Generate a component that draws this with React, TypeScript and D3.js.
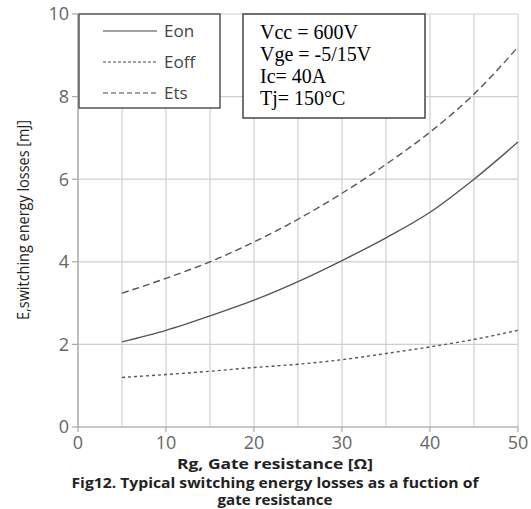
import React from "react";
import * as d3 from "d3";

const rg = [5, 10, 15, 20, 25, 30, 35, 40, 45, 50];
const eon = [2.06, 2.34, 2.69, 3.07, 3.52, 4.03, 4.58, 5.2, 6.0, 6.9];
const eoff = [1.2, 1.27, 1.35, 1.44, 1.52, 1.63, 1.78, 1.94, 2.12, 2.34];
const ets = [3.24, 3.6, 4.0, 4.48, 5.03, 5.66, 6.36, 7.14, 8.06, 9.2];
const xTicks = [0, 10, 20, 30, 40, 50];
const xGrid = [0, 5, 10, 15, 20, 25, 30, 35, 40, 45, 50];
const yTicks = [0, 2, 4, 6, 8, 10];
const seriesNames = ["Eon", "Eoff", "Ets"];
const conditions = ["Vcc = 600V", "Vge = -5/15V", "Ic= 40A", "Tj= 150\u00B0C"];

export default function App() {
  const x = d3.scaleLinear().domain([0, 50]).range([78, 518]);
  const y = d3.scaleLinear().domain([0, 10]).range([427, 14]);
  const line = d3
    .line<[number, number]>()
    .x((d) => x(d[0]))
    .y((d) => y(d[1]))
    .curve(d3.curveMonotoneX);
  const series = [
    { name: seriesNames[0], vals: eon, dash: "none" },
    { name: seriesNames[1], vals: eoff, dash: "3,3" },
    { name: seriesNames[2], vals: ets, dash: "7,4" },
  ];
  const sans = "'Open Sans', 'DejaVu Sans', sans-serif";
  return (
    <svg
      width={531}
      height={509}
      style={{ position: "absolute", left: 0, top: 0, background: "#fff" }}
    >
      {/* grid */}
      {xGrid.map((v) => (
        <line key={"gx" + v} x1={x(v)} x2={x(v)} y1={y(10)} y2={y(0)} stroke="#cfcfcf" strokeWidth={1.2} />
      ))}
      {yTicks.map((v) => (
        <line key={"gy" + v} x1={x(0)} x2={x(50)} y1={y(v)} y2={y(v)} stroke="#cfcfcf" strokeWidth={1.2} />
      ))}
      {/* axes */}
      <line x1={x(0)} x2={x(0)} y1={y(10)} y2={y(0)} stroke="#a8a8a8" strokeWidth={1.2} />
      <line x1={x(0)} x2={x(50)} y1={y(0)} y2={y(0)} stroke="#a8a8a8" strokeWidth={1.2} />
      {yTicks.map((v) => (
        <line key={"ty" + v} x1={x(0) - 6} x2={x(0)} y1={y(v)} y2={y(v)} stroke="#a8a8a8" strokeWidth={1.2} />
      ))}
      {xTicks.map((v) => (
        <line key={"tx" + v} x1={x(v)} x2={x(v)} y1={y(0)} y2={y(0) + 5} stroke="#a8a8a8" strokeWidth={1.2} />
      ))}
      {yTicks.map((v) => (
        <text key={"ly" + v} x={x(0) - 9} y={y(v)} dy="0.35em" textAnchor="end" fontFamily={sans} fontSize={18} fill="#666">
          {v}
        </text>
      ))}
      {xTicks.map((v) => (
        <text key={"lx" + v} x={x(v)} y={y(0) + 22} textAnchor="middle" fontFamily={sans} fontSize={18} fill="#666">
          {v}
        </text>
      ))}
      {/* series */}
      {series.map((s) => (
        <path
          key={s.name}
          d={line(rg.map((r, i) => [r, s.vals[i]] as [number, number])) || ""}
          fill="none"
          stroke="#555"
          strokeWidth={1.4}
          strokeDasharray={s.dash}
        />
      ))}
      {/* legend */}
      <rect x={79} y={14} width={141} height={94} fill="#fff" stroke="#555" strokeWidth={1.5} />
      {series.map((s, i) => (
        <g key={"lg" + s.name}>
          <line x1={103} x2={157} y1={31 + i * 31} y2={31 + i * 31} stroke="#444" strokeWidth={1.2} strokeDasharray={s.dash === "7,4" ? "5,3" : s.dash === "3,3" ? "3,2" : "none"} />
          <text x={164} y={31 + i * 31} dy="0.35em" fontFamily={sans} fontSize={17} fill="#444">
            {s.name}
          </text>
        </g>
      ))}
      {/* conditions box */}
      <rect x={243} y={14} width={182} height={104} fill="#fff" stroke="#444" strokeWidth={1.5} />
      {conditions.map((c, i) => (
        <text key={c} x={260} y={39 + i * 22} fontFamily="'Liberation Serif', 'Times New Roman', serif" fontSize={20} fill="#000">
          {c}
        </text>
      ))}
      {/* axis titles */}
      <text
        transform={`translate(29,220) rotate(-90)`}
        textAnchor="middle"
        fontFamily={sans}
        fontSize={16}
        fill="#222"
        textLength={200}
        lengthAdjust="spacingAndGlyphs"
      >
        E,switching energy losses [mJ]
      </text>
      <text x={275} y={469} textAnchor="middle" fontFamily={sans} fontSize={14} fontWeight="bold" fill="#222" textLength={196} lengthAdjust="spacingAndGlyphs">
        Rg, Gate resistance [Ω]
      </text>
      <text x={275} y={488} textAnchor="middle" fontFamily={sans} fontSize={13.5} fontWeight="bold" fill="#222" textLength={407} lengthAdjust="spacingAndGlyphs">
        Fig12. Typical switching energy losses as a fuction of
      </text>
      <text x={275} y={505} textAnchor="middle" fontFamily={sans} fontSize={13.5} fontWeight="bold" fill="#222" textLength={115} lengthAdjust="spacingAndGlyphs">
        gate resistance
      </text>
    </svg>
  );
}
